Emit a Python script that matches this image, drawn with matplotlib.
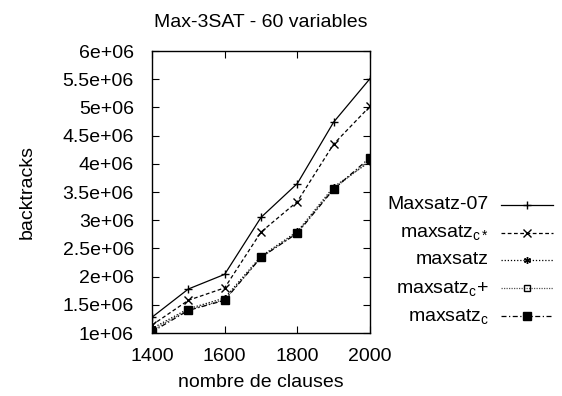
import matplotlib
matplotlib.use("Agg")
import matplotlib.pyplot as plt
from matplotlib.lines import Line2D

plt.rcParams['font.family'] = ['Liberation Sans', 'DejaVu Sans']
plt.rcParams['mathtext.fontset'] = 'custom'
plt.rcParams['mathtext.rm'] = 'Liberation Sans'
plt.rcParams['mathtext.it'] = 'Liberation Sans'
plt.rcParams['mathtext.default'] = 'regular'

clauses = [1400, 1500, 1600, 1700, 1800, 1900, 2000]
maxsatz07 = [1.28e6, 1.78e6, 2.04e6, 3.05e6, 3.65e6, 4.74e6, 5.51e6]
maxsatz_cstar = [1.14e6, 1.58e6, 1.80e6, 2.79e6, 3.33e6, 4.35e6, 5.02e6]
maxsatz = [1.08e6, 1.43e6, 1.62e6, 2.36e6, 2.80e6, 3.59e6, 4.04e6]
maxsatz_cplus = [1.05e6, 1.41e6, 1.59e6, 2.34e6, 2.78e6, 3.56e6, 4.06e6]
maxsatz_c = [1.02e6, 1.40e6, 1.58e6, 2.34e6, 2.77e6, 3.55e6, 4.11e6]

labels = ['Maxsatz-07', r'maxsatz$_{c*}$', 'maxsatz', r'maxsatz$_{c}$+', r'maxsatz$_{c}$']
xticks = [1400, 1600, 1800, 2000]
yticks = [1e6, 1.5e6, 2e6, 2.5e6, 3e6, 3.5e6, 4e6, 4.5e6, 5e6, 5.5e6, 6e6]
ytick_labels = ['1e+06', '1.5e+06', '2e+06', '2.5e+06', '3e+06', '3.5e+06',
                '4e+06', '4.5e+06', '5e+06', '5.5e+06', '6e+06']

W, H = 562, 396
fig = plt.figure(figsize=(W / 100, H / 100), dpi=100)
ax = fig.add_axes([152 / W, 1 - 333 / H, (370 - 152) / W, (333 - 51) / H])

styles = [
    dict(ls='-', marker='+', ms=6, color='black', lw=0.9),
    dict(ls=(0, (3, 2)), marker='x', ms=5.5, color='black', lw=0.9),
    dict(ls=(0, (1, 1.5)), marker=(6, 2, 0), ms=5, color='black', lw=0.9),
    dict(ls=(0, (1, 1)), marker='s', ms=4.5, color='#555555', mfc='none', mec='black', lw=0.9),
    dict(ls=(0, (4, 2, 1, 2)), marker='s', ms=6, color='black', lw=0.9),
]
series = [maxsatz07, maxsatz_cstar, maxsatz, maxsatz_cplus, maxsatz_c]
for s, lab, st in zip(series, labels, styles):
    ax.plot(clauses, s, label=lab, **st)

ax.set_xlim(1400, 2000)
ax.set_ylim(1e6, 6e6)
ax.set_xticks(xticks)
ax.set_xticklabels([str(t) for t in xticks])
ax.set_yticks(yticks)
ax.set_yticklabels(ytick_labels)
ax.tick_params(direction='in', top=True, right=True, labelsize=14, length=5, width=0.8)
ax.tick_params(axis='y', pad=13)
ax.tick_params(axis='x', pad=11)
for sp in ax.spines.values():
    sp.set_linewidth(1.0)

ax.set_title('Max-3SAT - 60 variables', fontsize=14, pad=17)
ax.set_xlabel('nombre de clauses', fontsize=14, labelpad=6)
ax.set_ylabel('backtracks', fontsize=14, labelpad=19)

# legend (gnuplot style: right-aligned text, sample line to the right)
row_y = [205, 233, 260, 288, 316]
for lab, st, yy in zip(labels, styles, row_y):
    yf = 1 - yy / H
    fig.text(489 / W, yf, lab, ha='right', va='center', fontsize=14)
    fig.add_artist(Line2D([501 / W, 553 / W], [yf, yf], transform=fig.transFigure,
                          ls=st['ls'], color=st['color'], lw=st['lw']))
    fig.add_artist(Line2D([527 / W], [yf], transform=fig.transFigure, ls='none',
                          marker=st['marker'], ms=st['ms'], color='black',
                          mfc=st.get('mfc', 'black'), mec=st.get('mec', 'black')))

fig.savefig('out.png', dpi=100)
